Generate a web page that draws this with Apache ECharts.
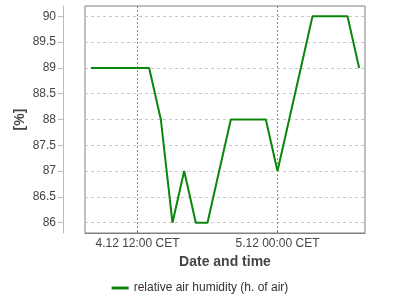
<!DOCTYPE html>
<html>
<head>
<meta charset="utf-8">
<script src="https://cdn.jsdelivr.net/npm/echarts@6/dist/echarts.min.js"></script>
<style>html,body{margin:0;padding:0;background:#fff}#c{width:400px;height:300px}</style>
</head>
<body>
<div id="c"></div>
<script>
// hours counted from 4.12 00:00 CET
var hours = [8,9,10,11,12,13,14,15,16,17,18,19,20,21,22,23,24,25,26,27,28,29,30,31];
var humidity = [89,89,89,89,89,89,88,86,87,86,86,87,88,88,88,88,87,88,89,90,90,90,90,89];
var yTicks = [86,86.5,87,87.5,88,88.5,89,89.5,90];
var xTickValues = [12,24];
var xTickLabels = ['4.12 12:00 CET','5.12 00:00 CET'];
var seriesName = 'relative air humidity (h. of air)';

var font = 'Liberation Sans, Arial, sans-serif';
var chart = echarts.init(document.getElementById('c'), null, {renderer:'canvas'});
chart.setOption({
  animation:false,
  grid:{left:85,right:35,top:6,bottom:67,show:true,borderColor:'#808080',borderWidth:1,backgroundColor:'transparent'},
  legend:{top:282,left:'center',padding:0,icon:'rect',itemWidth:17,itemHeight:3,itemGap:10,
    textStyle:{fontFamily:font,fontSize:12,color:'#333'},data:[seriesName]},
  xAxis:{type:'value',min:7.5,max:31.5,
    name:'Date and time',nameLocation:'middle',nameGap:22,
    nameTextStyle:{fontFamily:font,fontSize:14,fontWeight:'bold',color:'#444'},
    axisLine:{show:true,lineStyle:{color:'#808080'}},
    axisTick:{show:true,length:3,inside:true,customValues:xTickValues,lineStyle:{color:'#808080'}},
    axisLabel:{customValues:xTickValues,margin:5,fontFamily:font,fontSize:12,color:'#444',
      formatter:function(v){var i=xTickValues.indexOf(v);return i>=0?xTickLabels[i]:'';}},
    splitLine:{show:true,lineStyle:{color:'#888',type:[2,2],width:1}}
  },
  yAxis:{type:'value',min:85.8,max:90.2,offset:22,
    name:'[%]',nameLocation:'middle',nameGap:36,nameMoveOverlap:false,
    nameTextStyle:{fontFamily:font,fontSize:14,fontWeight:'bold',color:'#444'},
    axisLine:{show:true,lineStyle:{color:'#bbb'}},
    axisTick:{show:true,length:5,customValues:yTicks,lineStyle:{color:'#bbb'}},
    axisLabel:{customValues:yTicks,margin:7,fontFamily:font,fontSize:12,color:'#444',
      formatter:function(v){return String(v);}},
    splitLine:{show:true,lineStyle:{color:'#c8c8c8',type:[3,3],width:1}}
  },
  series:[{name:seriesName,type:'line',showSymbol:false,
    data:hours.map(function(h,i){return [h,humidity[i]];}),
    lineStyle:{color:'#0a870a',width:2},itemStyle:{color:'#0a870a'}}]
});
</script>
</body>
</html>
